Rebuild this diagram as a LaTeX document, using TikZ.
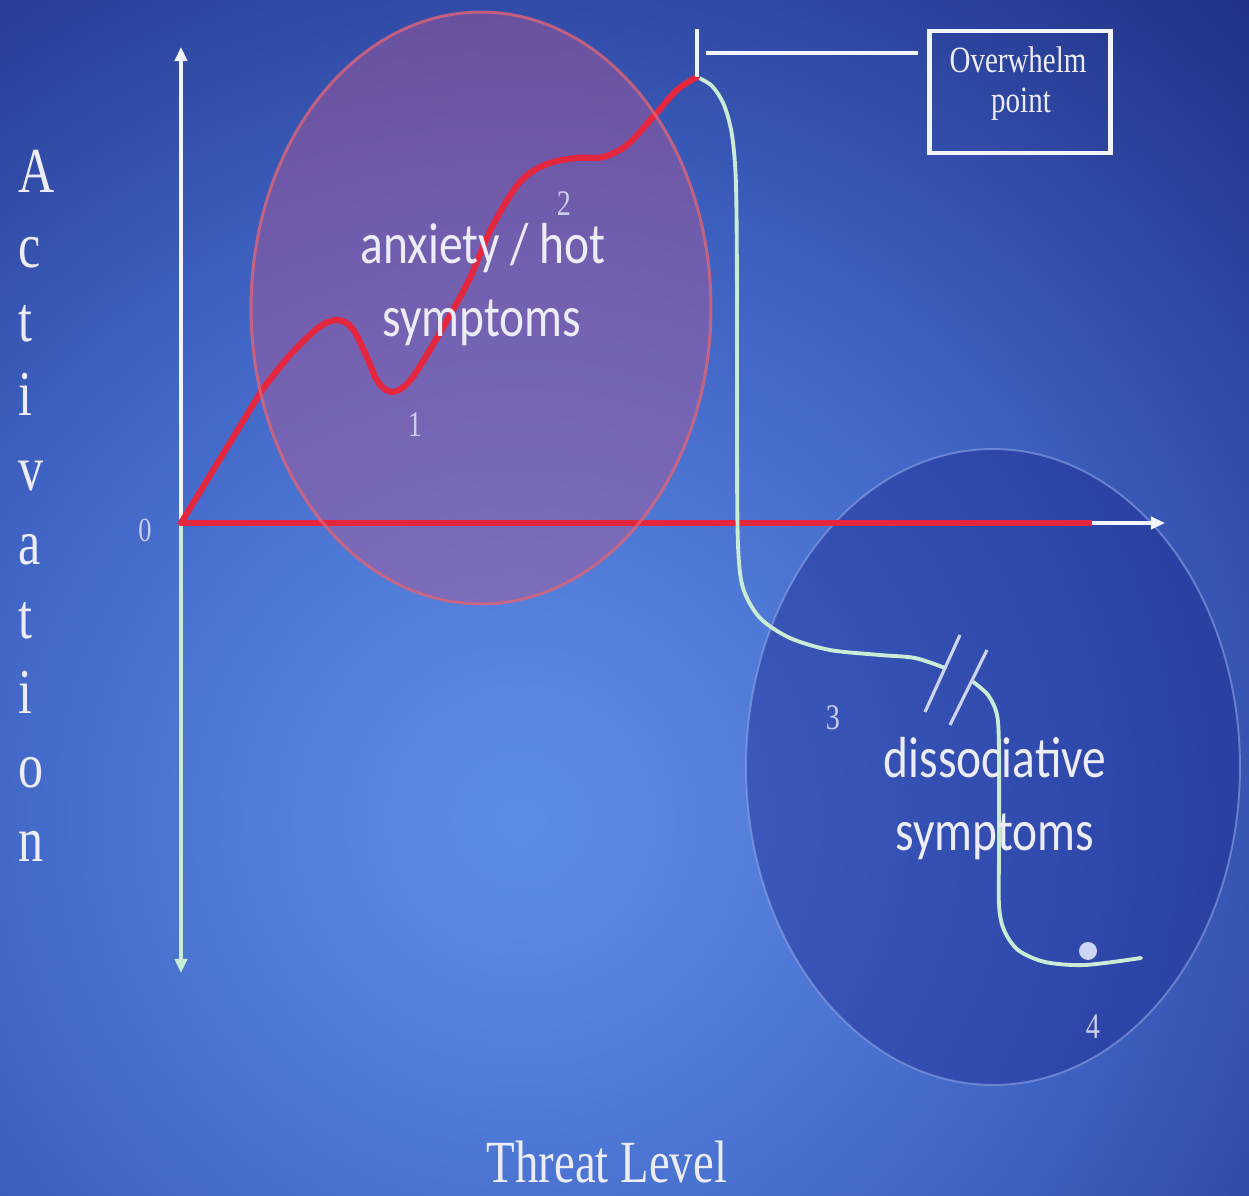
\documentclass[tikz,border=0pt]{standalone}
\usepackage{fontspec}
\usepackage{graphicx}
\setmainfont{Liberation Serif}
\newfontfamily\calfont{Carlito}
\usetikzlibrary{arrows.meta}
\definecolor{bgA}{RGB}{92,140,230}
\definecolor{bgB}{RGB}{84,128,220}
\definecolor{bgC}{RGB}{64,100,196}
\definecolor{bgD}{RGB}{48,74,165}
\definecolor{bgE}{RGB}{32,48,135}
\definecolor{redc}{RGB}{228,38,62}
\definecolor{mint}{RGB}{200,236,214}
\definecolor{axw}{RGB}{242,245,255}
\definecolor{txtw}{RGB}{236,236,250}
\definecolor{numc}{RGB}{205,205,240}
\definecolor{pinkfill}{RGB}{175,88,149}
\definecolor{pinkedge}{RGB}{220,100,120}
\definecolor{bluefill}{RGB}{25,35,140}
\definecolor{blueedge}{RGB}{150,170,235}
\definecolor{breakc}{RGB}{205,212,245}
\pgfdeclareradialshading{bgshade}{\pgfpoint{0bp}{0bp}}{color(0bp)=(bgA); color(5bp)=(bgB); color(13bp)=(bgC); color(19bp)=(bgD); color(25bp)=(bgE); color(50bp)=(bgE)}
\newcommand\vstr[1]{\scalebox{1}[1.28]{#1}}
\newcommand\vsans[1]{\scalebox{1}[1.22]{#1}}
\begin{document}
\begin{tikzpicture}[x=0.02cm, y=-0.02cm,
  actl/.style={text=txtw, inner sep=0pt, font=\fontsize{28.5}{30}\selectfont},
  numl/.style={text=numc, inner sep=0pt, anchor=base, font=\fontsize{16}{18}\selectfont},
  sansl/.style={text=txtw, inner sep=0pt, anchor=base, font=\calfont\fontsize{27}{30}\selectfont},
  serl/.style={text=txtw, inner sep=0pt, anchor=base},
  redline/.style={draw=redc, line width=3.5pt, line cap=round, line join=round},
  greenline/.style={draw=mint, line width=2.2pt, line cap=round, line join=round},
  axisline/.style={line width=2pt, -{Triangle[length=8pt,width=7pt]}},
  whiteline/.style={draw=axw, line width=2.8pt},
  breakmark/.style={draw=breakc, line width=1.8pt},
  pinkfillst/.style={fill=pinkfill, fill opacity=0.45},
  pinkedgest/.style={draw=pinkedge, draw opacity=0.8, line width=1.7pt},
  blueell/.style={fill=bluefill, fill opacity=0.42, draw=blueedge, draw opacity=0.55, line width=1.1pt},
  obox/.style={draw=axw, line width=2.8pt, minimum width=3.62cm, minimum height=2.44cm, inner sep=0pt}
]
\useasboundingbox (0,0) rectangle (1249,1196);
% background
\begin{scope}
\clip (0,0) rectangle (1249,1196);
\shade[shading=bgshade] (520,820) circle (22cm);
\end{scope}

% dissociative region
\path[blueell] (993,767) ellipse [x radius=4.94cm, y radius=6.36cm];
% anxiety region (fill)
\path[pinkfillst] (481,308) ellipse [x radius=4.6cm, y radius=5.92cm];

% coordinates
\coordinate (origin) at (181,523);
\coordinate (ytop) at (181,47);
\coordinate (ybot) at (181,973);
\coordinate (xend) at (1165,523);
\coordinate (redend) at (1092,523);
\coordinate (peak) at (697,77);
\coordinate (ticktop) at (697,29);
\coordinate (lead) at (706,53);
\coordinate (dot) at (1088,951);

% axes
\draw[axisline, draw=axw, fill=axw] (origin) -- (ytop);
\draw[axisline, draw=mint, fill=mint] (origin) -- (ybot);
\draw[axisline, draw=axw, fill=axw] (origin) -- (xend);
\draw[redline, line cap=butt] (origin) -- (redend);

% green (dissociative) curve
\draw[greenline] plot[smooth, tension=0.5] coordinates {(697,77) (712,86) (724,105) (732,135) (736,185) (737,300) (737,450) (738,545) (743,588) (760,618) (790,638) (830,650) (880,655) (915,658) (945,668)};
\draw[greenline] plot[smooth, tension=0.5] coordinates {(972,681) (988,695) (997,715) (999,750) (999,850) (999,905) (1004,930) (1018,950) (1045,962) (1085,965) (1141,958)};
\draw[breakmark] (960,635) -- (925,712);
\draw[breakmark] (987,650) -- (950,725);
\fill[breakc] (dot) circle (0.18cm);

% red (activation) curve
\draw[redline] (origin) -- (262,390) plot[smooth, tension=0.55] coordinates {(262,390) (290,355) (318,328) (337,320) (352,328) (366,355) (378,382) (392,392) (408,383) (425,358) (446,322) (469,280) (492,227) (520,182) (547,164) (577,158) (603,157) (627,145) (653,117) (677,90) (697,77)};

% anxiety region (outline, over the curve)
\path[pinkedgest] (481,308) ellipse [x radius=4.6cm, y radius=5.92cm];

% overwhelm marker
\draw[whiteline] (peak) -- (ticktop);
\node[obox] (ow) at (1020,92) {};
\draw[whiteline, shorten >=0.18cm] (lead) -- (lead -| ow.west);
\node[serl, font=\fontsize{16.5}{18}\selectfont] (owt1) at (1018,73) {\vstr{Overwhelm}};
\node[serl, font=\fontsize{16.5}{18}\selectfont] (owt2) at (1021,113) {\vstr{point}};

% axis labels
\foreach \ch [count=\i from 0] in {A,c,t,i,v,a,t,i,o,n}
  \node[actl, anchor=base west] (act\i) at (18,{193+74.3*\i}) {\vstr{\ch}};
\node[serl, font=\fontsize{26.6}{30}\selectfont] (threat) at (607,1182) {\vstr{Threat Level}};

% numbers
\node[numl, font=\fontsize{15}{18}\selectfont] (n0) at (145,541) {\vstr{0}};
\node[numl] (n1) at (415,437) {\vstr{1}};
\node[numl] (n2) at (564,216) {\vstr{2}};
\node[numl] (n3) at (833,729) {\vstr{3}};
\node[numl] (n4) at (1093,1038) {\vstr{4}};

% region labels
\node[sansl] (anx1) at (483,264) {\vsans{anxiety / hot}};
\node[sansl] (anx2) at (482,337) {\vsans{symptoms}};
\node[sansl] (dis1) at (995,777) {\vsans{dissociative}};
\node[sansl] (dis2) at (995,850) {\vsans{symptoms}};
\end{tikzpicture}
\end{document}
